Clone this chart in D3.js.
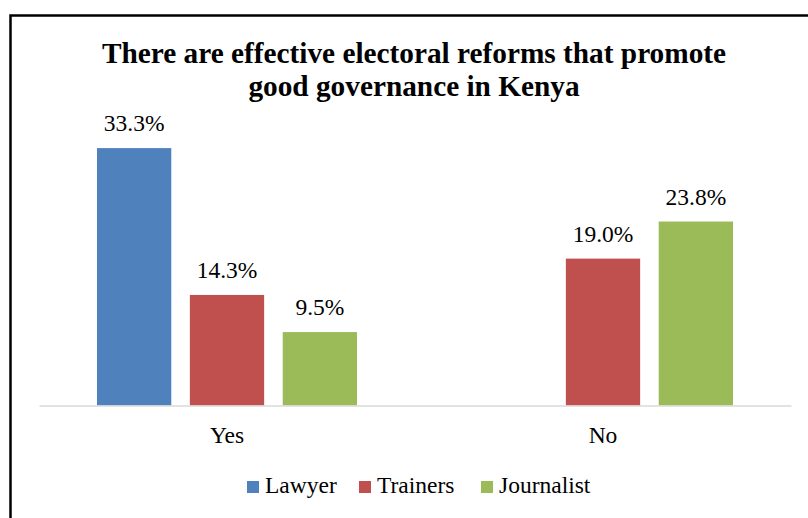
<!DOCTYPE html>
<html><head><meta charset="utf-8">
<script src="https://cdn.jsdelivr.net/npm/d3@7"></script>
<style>body{margin:0;background:#fff}svg{display:block}</style>
</head><body>
<script>
const categories = ["Yes", "No"];
const seriesNames = ["Lawyer", "Trainers", "Journalist"];
const lawyer = [33.3, null];
const trainers = [14.3, 19.0];
const journalist = [9.5, 23.8];
const colors = ["#4F81BD", "#C0504D", "#9BBB59"];
const titleLines = ["There are effective electoral reforms that promote", "good governance in Kenya"];

const W = 808, H = 518;
const svg = d3.select("body").append("svg").attr("width", W).attr("height", H);
const font = "Liberation Serif, DejaVu Serif, serif";
const fs = 23.5;

svg.append("rect").attr("x", 10.5).attr("y", 15.5).attr("width", 830).attr("height", 530)
  .attr("fill", "none").attr("stroke", "#000").attr("stroke-width", 2.5);

const x0 = d3.scaleBand().domain(categories).range([39, 791]).paddingInner(0).paddingOuter(0);
const x1 = d3.scaleBand().domain(seriesNames).range([58, 376 - 58]).paddingInner(0.2).paddingOuter(0);
const y = d3.scaleLinear().domain([0, 35]).range([405.5, 405.5 - 35 * 7.73]);

const data = [lawyer, trainers, journalist];
const g = svg.append("g");
categories.forEach((c, ci) => {
  seriesNames.forEach((s, si) => {
    const v = data[si][ci];
    if (v == null) return;
    const bx = x0(c) + x1(s);
    g.append("rect").attr("x", bx).attr("y", y(v)).attr("width", x1.bandwidth())
      .attr("height", y(0) - y(v)).attr("fill", colors[si]);
    g.append("text").attr("x", bx + x1.bandwidth() / 2).attr("y", y(v) - 17)
      .attr("text-anchor", "middle").style("font-family", font).style("font-size", fs + "px")
      .attr("fill", "#000").text(v.toFixed(1) + "%");
  });
});

// baseline axis
const xAxis = d3.axisBottom(x0).tickSize(0).tickPadding(0);
const ax = svg.append("g").attr("transform", `translate(0,${y(0)})`).call(xAxis);
ax.select(".domain").attr("stroke", "#d9d9d9").attr("stroke-width", 1.5);
ax.selectAll("text").style("font-family", font).style("font-size", fs + "px")
  .attr("fill", "#000").attr("y", 37).attr("dy", null);

// title
svg.append("text").attr("text-anchor", "middle").style("font-family", font)
  .style("font-weight", "bold").style("font-size", "29.3px").attr("fill", "#000")
  .selectAll("tspan").data(titleLines).join("tspan")
  .attr("x", 414).attr("y", (d, i) => 63 + i * 33).text(d => d);

// legend
const legendX = [247, 359, 481];
const lg = svg.append("g");
seriesNames.forEach((s, i) => {
  lg.append("rect").attr("x", legendX[i]).attr("y", 481).attr("width", 12).attr("height", 12).attr("fill", colors[i]);
  lg.append("text").attr("x", legendX[i] + 18).attr("y", 493).style("font-family", font)
    .style("font-size", fs + "px").attr("fill", "#000").text(s);
});
</script>
</body></html>
